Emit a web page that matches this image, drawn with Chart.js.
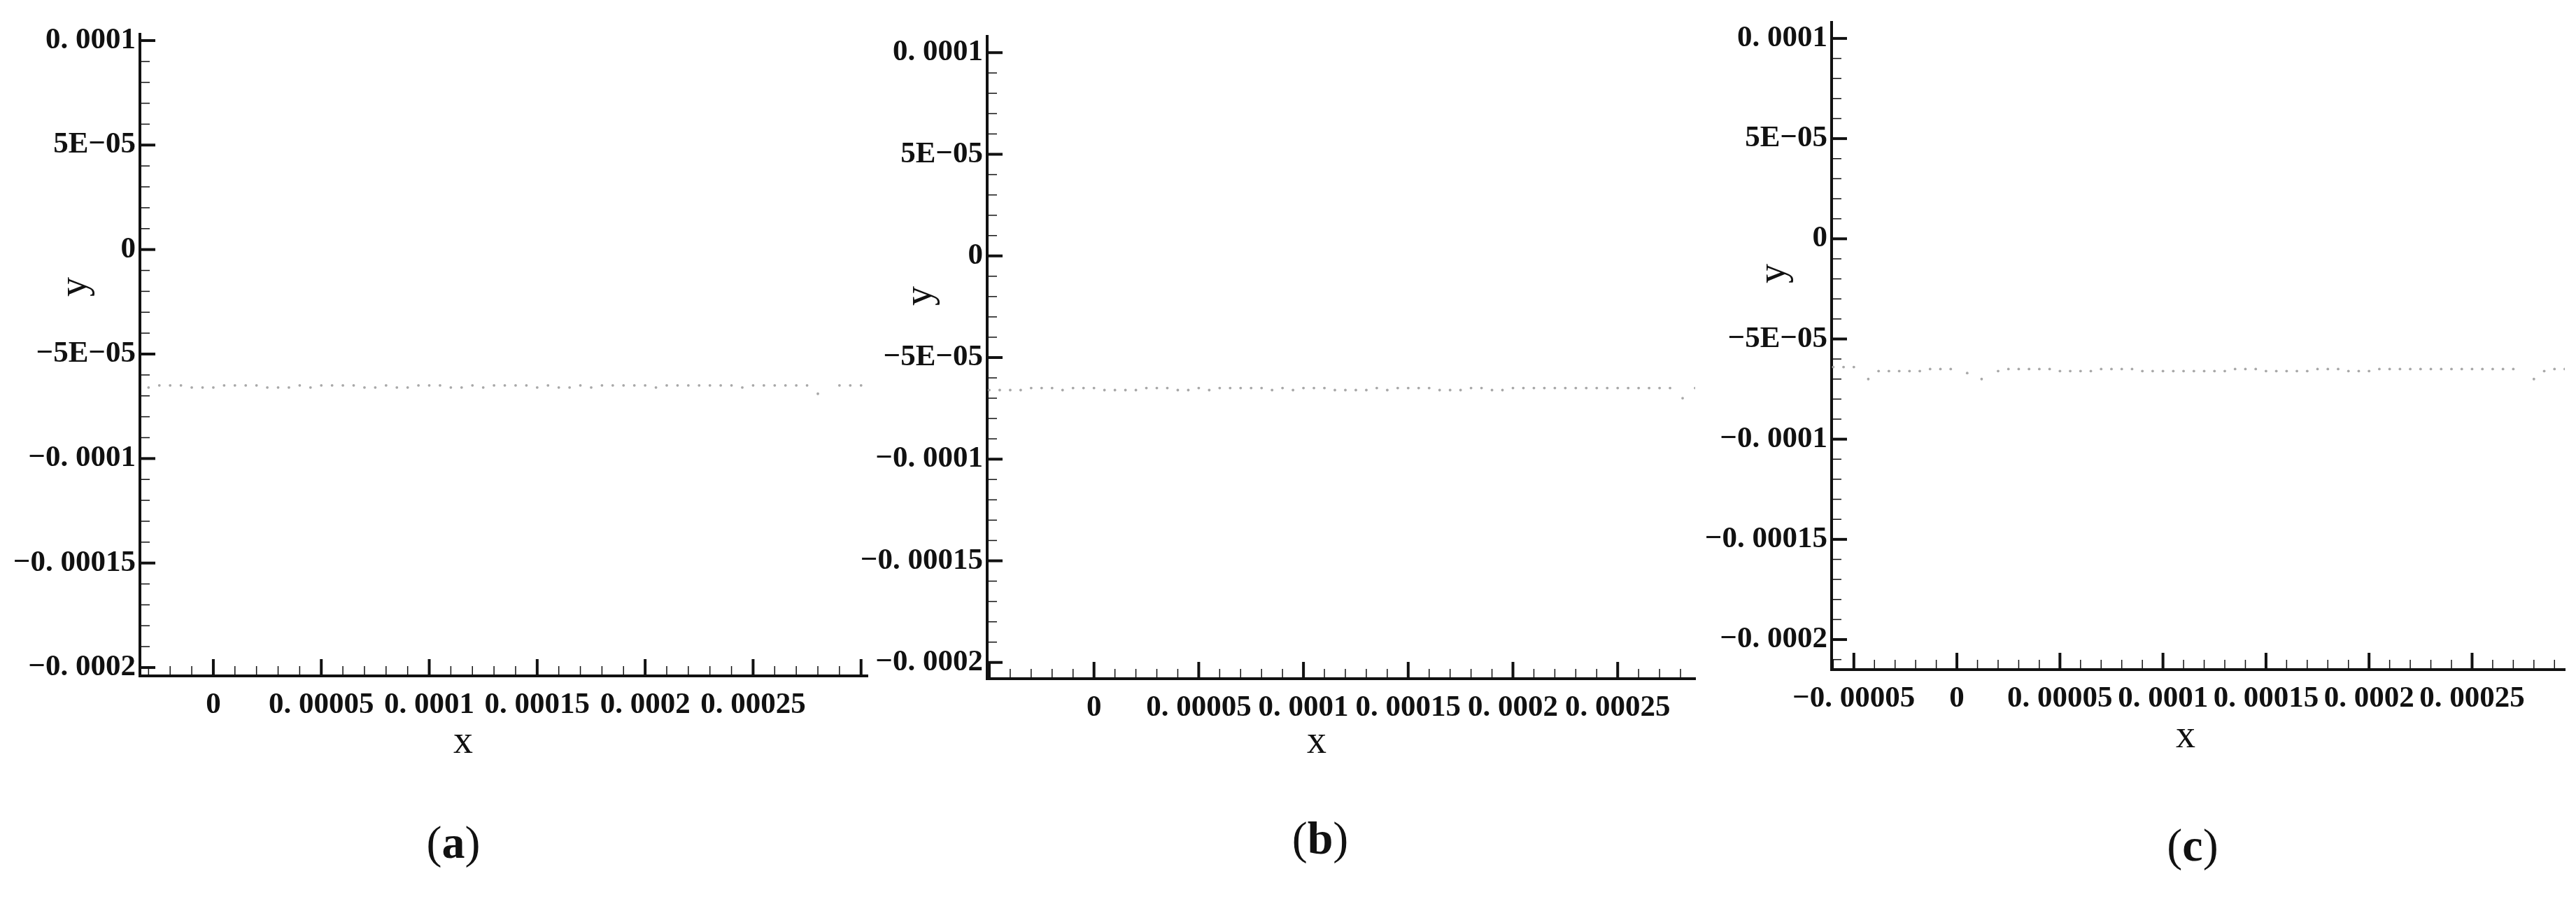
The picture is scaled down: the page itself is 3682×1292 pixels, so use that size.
<!DOCTYPE html>
<html>
<head>
<meta charset="utf-8">
<script src="https://cdn.jsdelivr.net/npm/chart.js@4.4.1/dist/chart.umd.min.js"></script>
<style>
  body { margin: 0; background: #fff; width: 3682px; height: 1292px; position: relative; overflow: hidden; }
  canvas { position: absolute; }
  .lbl { position: absolute; font-family: 'Liberation Serif', serif; color: #111; transform: translate(-50%, -50%); white-space: nowrap; }
  .axt { font-size: 56px; }
  .yt { transform: translate(-50%, -50%) rotate(-90deg); }
  .cap { font-size: 66px; font-family: 'Liberation Serif', serif; }
  .cap b { font-weight: bold; }
</style>
</head>
<body>
<canvas id="cA"></canvas>
<canvas id="cB"></canvas>
<canvas id="cC"></canvas>

<div class="lbl axt yt" style="left:104px;top:410px">y</div>
<div class="lbl axt" style="left:662px;top:1057px">x</div>
<div class="lbl axt yt" style="left:1312px;top:423px">y</div>
<div class="lbl axt" style="left:1882px;top:1057px">x</div>
<div class="lbl axt yt" style="left:2532px;top:391px">y</div>
<div class="lbl axt" style="left:3124px;top:1049px">x</div>
<div class="lbl cap" style="left:648px;top:1204px">(<b>a</b>)</div>
<div class="lbl cap" style="left:1887px;top:1198px">(<b>b</b>)</div>
<div class="lbl cap" style="left:3134px;top:1208px">(<b>c</b>)</div>

<script>
// ---- data ----
const yTickValues = [1e-4, 5e-5, 0, -5e-5, -1e-4, -1.5e-4, -2e-4];
const yTickLabels = ['0. 0001', '5E\u221205', '0', '\u22125E\u221205', '\u22120. 0001', '\u22120. 00015', '\u22120. 0002'];
const xTickValuesAB = [0, 5e-5, 1e-4, 1.5e-4, 2e-4, 2.5e-4];
const xTickLabelsAB = ['0', '0. 00005', '0. 0001', '0. 00015', '0. 0002', '0. 00025'];
const xTickLabelsB = ['0', '0. 00005', '0. 0001', '0. 00015', '0. 0002', '0. 00025'];
const xTickValuesC = [-5e-5, 0, 5e-5, 1e-4, 1.5e-4, 2e-4, 2.5e-4];
const xTickLabelsC = ['\u22120. 00005', '0', '0. 00005', '0. 0001', '0. 00015', '0. 0002', '0. 00025'];

const xA = [-35e-6,-30e-6,-25e-6,-20e-6,-15e-6,-10e-6,-5e-6,0,5e-6,10e-6,15e-6,20e-6,25e-6,30e-6,35e-6,40e-6,45e-6,50e-6,55e-6,60e-6,65e-6,70e-6,75e-6,80e-6,85e-6,90e-6,95e-6,100e-6,105e-6,110e-6,115e-6,120e-6,125e-6,130e-6,135e-6,140e-6,145e-6,150e-6,155e-6,160e-6,165e-6,170e-6,175e-6,180e-6,185e-6,190e-6,195e-6,200e-6,205e-6,210e-6,215e-6,220e-6,225e-6,230e-6,235e-6,240e-6,245e-6,250e-6,255e-6,260e-6,265e-6,270e-6,275e-6,280e-6,290e-6,295e-6,300e-6];
const yA = [-65e-6,-66e-6,-65e-6,-65e-6,-65e-6,-66e-6,-66e-6,-66e-6,-65e-6,-65e-6,-65e-6,-65e-6,-66e-6,-66e-6,-66e-6,-65e-6,-66e-6,-65e-6,-65e-6,-65e-6,-65e-6,-66e-6,-66e-6,-65e-6,-66e-6,-66e-6,-65e-6,-65e-6,-65e-6,-66e-6,-66e-6,-65e-6,-66e-6,-65e-6,-65e-6,-65e-6,-65e-6,-66e-6,-65e-6,-66e-6,-66e-6,-65e-6,-66e-6,-65e-6,-65e-6,-65e-6,-65e-6,-65e-6,-66e-6,-65e-6,-65e-6,-65e-6,-65e-6,-65e-6,-65e-6,-65e-6,-66e-6,-65e-6,-65e-6,-65e-6,-65e-6,-65e-6,-65e-6,-69e-6,-65e-6,-65e-6,-65e-6];

const xB = [-50e-6,-45e-6,-40e-6,-35e-6,-30e-6,-25e-6,-20e-6,-15e-6,-10e-6,-5e-6,0,5e-6,10e-6,15e-6,20e-6,25e-6,30e-6,35e-6,40e-6,45e-6,50e-6,55e-6,60e-6,65e-6,70e-6,75e-6,80e-6,85e-6,90e-6,95e-6,100e-6,105e-6,110e-6,115e-6,120e-6,125e-6,130e-6,135e-6,140e-6,145e-6,150e-6,155e-6,160e-6,165e-6,170e-6,175e-6,180e-6,185e-6,190e-6,195e-6,200e-6,205e-6,210e-6,215e-6,220e-6,225e-6,230e-6,235e-6,240e-6,245e-6,250e-6,255e-6,260e-6,265e-6,270e-6,275e-6,281e-6,287e-6];
const yB = [-66e-6,-66e-6,-66e-6,-66e-6,-65e-6,-65e-6,-65e-6,-66e-6,-65e-6,-65e-6,-65e-6,-66e-6,-66e-6,-66e-6,-66e-6,-65e-6,-65e-6,-65e-6,-66e-6,-66e-6,-65e-6,-66e-6,-65e-6,-65e-6,-65e-6,-65e-6,-65e-6,-66e-6,-65e-6,-66e-6,-65e-6,-65e-6,-65e-6,-66e-6,-66e-6,-66e-6,-66e-6,-65e-6,-66e-6,-65e-6,-65e-6,-65e-6,-65e-6,-66e-6,-66e-6,-66e-6,-65e-6,-65e-6,-66e-6,-66e-6,-65e-6,-65e-6,-65e-6,-65e-6,-65e-6,-65e-6,-65e-6,-65e-6,-65e-6,-65e-6,-65e-6,-65e-6,-65e-6,-65e-6,-65e-6,-65e-6,-70e-6,-65e-6];

const xC = [-60e-6,-55e-6,-50e-6,-43e-6,-38e-6,-33e-6,-28e-6,-23e-6,-18e-6,-13e-6,-8e-6,-3e-6,5e-6,12e-6,20e-6,25e-6,30e-6,35e-6,40e-6,45e-6,50e-6,55e-6,60e-6,65e-6,70e-6,75e-6,80e-6,85e-6,90e-6,95e-6,100e-6,105e-6,110e-6,115e-6,120e-6,125e-6,130e-6,135e-6,140e-6,145e-6,150e-6,155e-6,160e-6,165e-6,170e-6,175e-6,180e-6,185e-6,190e-6,195e-6,200e-6,205e-6,210e-6,215e-6,220e-6,225e-6,230e-6,235e-6,240e-6,245e-6,250e-6,255e-6,260e-6,265e-6,270e-6,280e-6,285e-6,290e-6,295e-6];
const yC = [-64e-6,-64e-6,-64e-6,-70e-6,-66e-6,-66e-6,-66e-6,-66e-6,-66e-6,-65e-6,-65e-6,-65e-6,-67e-6,-70e-6,-66e-6,-65e-6,-65e-6,-65e-6,-65e-6,-65e-6,-66e-6,-66e-6,-66e-6,-66e-6,-65e-6,-65e-6,-65e-6,-65e-6,-66e-6,-66e-6,-66e-6,-66e-6,-66e-6,-66e-6,-66e-6,-66e-6,-66e-6,-65e-6,-65e-6,-65e-6,-66e-6,-66e-6,-66e-6,-66e-6,-66e-6,-65e-6,-65e-6,-65e-6,-66e-6,-66e-6,-66e-6,-65e-6,-65e-6,-65e-6,-65e-6,-65e-6,-65e-6,-65e-6,-65e-6,-65e-6,-65e-6,-65e-6,-65e-6,-65e-6,-65e-6,-70e-6,-66e-6,-65e-6,-65e-6];

const TICK_FONT = { family: "'Liberation Serif', serif", size: 43, weight: 'bold' };

// inward major/minor ticks like the reference plots
const inwardTicks = {
  id: 'inwardTicks',
  afterDraw(chart) {
    const { ctx, chartArea: a, scales: { x, y } } = chart;
    ctx.save();
    ctx.strokeStyle = '#111';
    for (let v = -4e-4; v <= 4e-4 + 1e-12; v += 1e-5) {
      const major = Math.abs(v / 5e-5 - Math.round(v / 5e-5)) < 1e-6;
      const yp = y.getPixelForValue(v);
      if (yp >= a.top - 1 && yp <= a.bottom + 1) {
        ctx.lineWidth = major ? 4 : 1.5;
        ctx.beginPath(); ctx.moveTo(a.left, yp); ctx.lineTo(a.left + (major ? 22 : 14), yp); ctx.stroke();
      }
      const xp = x.getPixelForValue(v);
      if (xp >= a.left - 1 && xp <= a.right + 1) {
        ctx.lineWidth = major ? 4 : 1.5;
        ctx.beginPath(); ctx.moveTo(xp, a.bottom); ctx.lineTo(xp, a.bottom - (major ? 24 : 14)); ctx.stroke();
      }
    }
    ctx.restore();
  }
};

function makePanel(id, left, top, width, height, padTop, padRight, xs, ys, xMin, xMax, yMin, yMax, xTicks, xLabels, xAxisH) {
  const el = document.getElementById(id);
  el.style.left = left + 'px'; el.style.top = top + 'px';
  el.style.width = width + 'px'; el.style.height = height + 'px';
  new Chart(el, {
    type: 'scatter',
    data: { datasets: [{ data: xs.map((v, i) => ({ x: v, y: ys[i] })), pointRadius: 1.9, pointBackgroundColor: '#a8a8a8', pointBorderWidth: 0 }] },
    options: {
      responsive: false, animation: false, devicePixelRatio: 1,
      layout: { padding: { top: padTop, right: padRight, left: 0, bottom: 0 } },
      plugins: { legend: { display: false }, tooltip: { enabled: false } },
      scales: {
        x: {
          type: 'linear', min: xMin, max: xMax,
          afterBuildTicks: s => { s.ticks = xTicks.map(v => ({ value: v })); },
          afterFit: s => { s.height = xAxisH; },
          grid: { display: false, drawTicks: false },
          border: { display: true, color: '#111', width: 4 },
          ticks: { autoSkip: false, maxRotation: 0, padding: 16, color: '#111', font: TICK_FONT,
                   callback: (v, i) => xLabels[i] }
        },
        y: {
          type: 'linear', min: yMin, max: yMax,
          afterBuildTicks: s => { s.ticks = yTickValues.map(v => ({ value: v })); },
          afterFit: s => { s.width = 200; },
          grid: { display: false, drawTicks: false },
          border: { display: true, color: '#111', width: 4 },
          ticks: { autoSkip: false, padding: 6, color: '#111', font: TICK_FONT,
                   callback: (v, i) => yTickLabels[i] }
        }
      }
    },
    plugins: [inwardTicks]
  });
}

makePanel('cA', 0, 0, 1260, 1100, 49, 20, xA, yA, -3.4e-5, 3.03e-4, -2.04e-4, 1.03e-4, xTickValuesAB, xTickLabelsAB, 134);
makePanel('cB', 1211, 0, 1232, 1100, 52, 20, xB, yB, -5.1e-5, 2.87e-4, -2.08e-4, 1.08e-4, xTickValuesAB, xTickLabelsB, 130);
makePanel('cC', 2418, 0, 1264, 1100, 32, 16, xC, yC, -6.08e-5, 2.95e-4, -2.15e-4, 1.08e-4, xTickValuesC, xTickLabelsC, 143);
</script>
</body>
</html>
